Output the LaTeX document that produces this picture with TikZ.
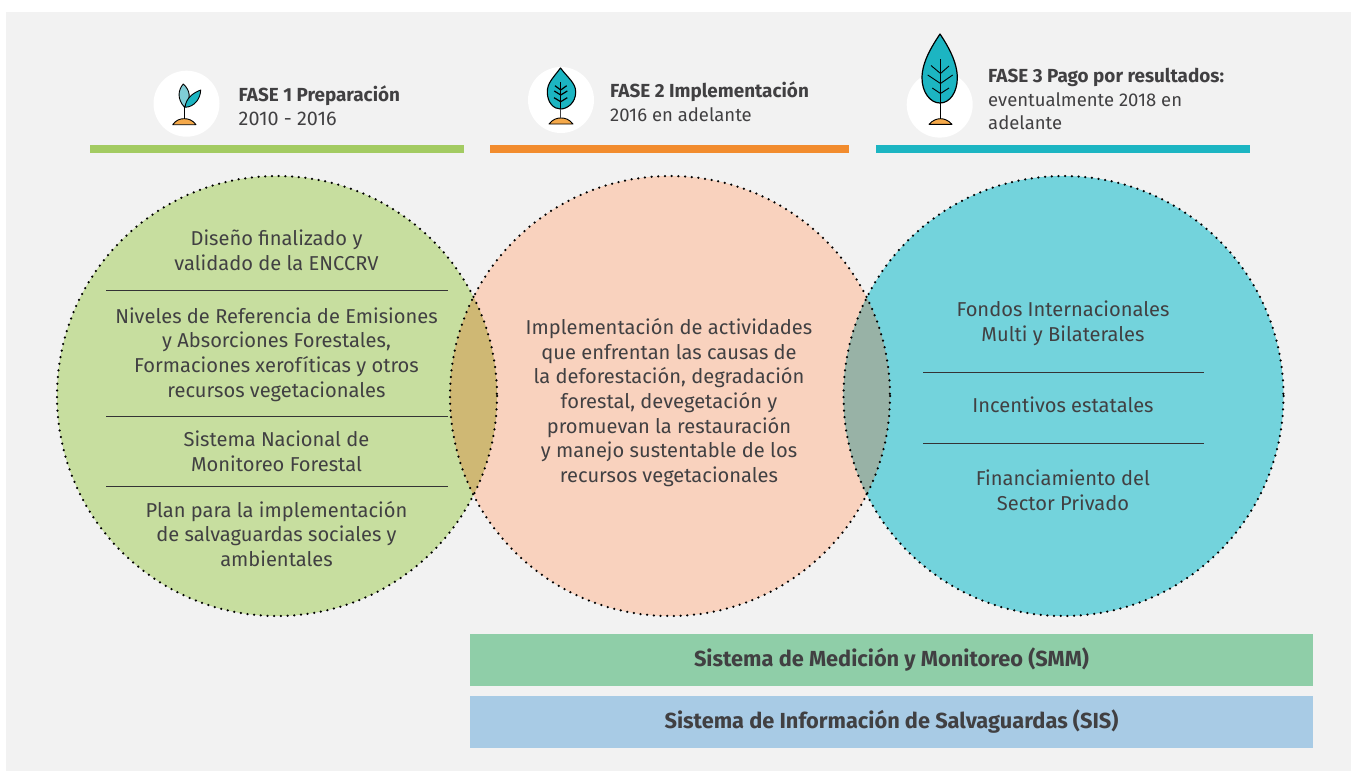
\documentclass[tikz,border=0pt]{standalone}
\usepackage{fontspec}
\setmainfont{Fira Sans}
\usetikzlibrary{calc}
\definecolor{panel}{HTML}{F2F2F2}
\definecolor{ink}{HTML}{414042}
\definecolor{barg}{HTML}{A3CB62}
\definecolor{baro}{HTML}{F28C2E}
\definecolor{bart}{HTML}{1CB5C2}
\definecolor{cg}{HTML}{C7DE9F}
\definecolor{co}{HTML}{F9D2BE}
\definecolor{ct}{HTML}{73D3DC}
\definecolor{ov1}{HTML}{CFB874}
\definecolor{ov2}{HTML}{98B2A6}
\definecolor{smm}{HTML}{8FCEA8}
\definecolor{sis}{HTML}{A8CBE5}
\definecolor{leaflt}{HTML}{7FCDD6}
\definecolor{soil}{HTML}{F5A94A}
\newcommand{\headbold}[1]{{\fontsize{18.9}{23.8}\selectfont\bfseries #1}}
\tikzset{
  x=1pt,y=-1pt,
  bodytext/.style={text=ink,font=\fontsize{20.1}{24.7}\selectfont,align=center,inner sep=0pt},
  headtext/.style={text=ink,font=\fontsize{18.5}{23.6}\selectfont,align=left,inner sep=0pt,anchor=north west},
  bandtext/.style={text=ink,font=\fontsize{21.8}{24}\selectfont\bfseries,inner sep=0pt},
  disc/.style={circle,fill=white,inner sep=0pt,minimum size=66pt},
  bar/.style={inner sep=0pt,minimum height=8pt},
  rule/.style={draw=ink!80!black,line width=0.9pt},
  dots/.style={draw=black,line width=2.5pt,line cap=round,dash pattern=on 0pt off 6.7pt},
  icon/.style={draw=black,line width=0.9pt,line join=round},
  band/.style={inner sep=0pt,minimum height=52pt}
}
\begin{document}
\begin{tikzpicture}
\useasboundingbox (0,0) rectangle (1351,771);
\fill[white] (0,0) rectangle (1351,771);
\fill[panel] (6,12) rectangle (1351,771);
% bars
\node[bar,fill=barg,minimum width=374pt] (b1) at (277,149) {};
\node[bar,fill=baro,minimum width=359pt] (b2) at (669.5,149) {};
\node[bar,fill=bart,minimum width=374pt] (b3) at (1063,149) {};
% circles
\def\R{220}
\fill[cg] (277,396) circle (\R);
\fill[co] (670,396) circle (\R);
\fill[ct] (1063.5,396) circle (\R);
\begin{scope}\clip (277,396) circle (\R); \fill[ov1] (670,396) circle (\R); \end{scope}
\begin{scope}\clip (670,396) circle (\R); \fill[ov2] (1063.5,396) circle (\R); \end{scope}
\draw[dots] (277,396) circle (\R);
\draw[dots] (670,396) circle (\R);
\draw[dots] (1063.5,396) circle (\R);
% discs
\node[disc] (d1) at (186.5,103.7) {};
\node[disc] (d2) at (561,100) {};
\node[disc] (d3) at (939.7,104.6) {};
% sprout
\draw[icon,fill=soil] (172.7,124.7) .. controls (176,120) and (180,118.7) .. (184.3,118.7) .. controls (188.5,118.7) and (192.5,120) .. (196,124.7) -- cycle;
\draw[icon] (184.3,118.7) -- (184.3,105);
\draw[icon,fill=leaflt] (184.3,107) .. controls (177,99) and (178,90) .. (183.3,84) .. controls (190,90) and (192,99) .. (184.3,107) -- cycle;
\draw[icon,fill=bart] (185,107.3) .. controls (186,98) and (193,93) .. (200.7,90) .. controls (200.5,98) and (195,107) .. (185,107.3) -- cycle;
% tree 2
\draw[icon,fill=soil] (549,124) .. controls (553,119) and (557,118) .. (561,118) .. controls (565,118) and (569,119) .. (573,124) -- cycle;
\draw[icon,line width=1.1pt,fill=bart] (560.5,68) .. controls (553,78) and (547.3,83) .. (547.3,92) .. controls (547.3,103) and (554,109) .. (560.5,109) .. controls (567,109) and (575.7,103) .. (575.7,92) .. controls (575.7,83) and (568,78) .. (560.5,68) -- cycle;
\draw[icon,line width=1.2pt] (560.7,82.3) -- (560.7,109);
\draw[icon,line width=1.2pt] (555,85.7) -- (560.7,90) -- (566.7,85.7) (554.3,91) -- (560.7,95) -- (567.3,91) (554,97.7) -- (560.7,101.7) -- (567.3,97.7);
\draw[icon,draw=ink,line width=1.5pt] (560.7,109) -- (560.7,118);
% tree 3
\draw[icon,fill=soil] (929,124.3) .. controls (933,120) and (937,118.7) .. (940.5,118.7) .. controls (944,118.7) and (948,120) .. (952,124.3) -- cycle;
\draw[icon,line width=1.2pt,fill=bart] (940,34) .. controls (932,46) and (922,62) .. (922,78) .. controls (922,92) and (930,103) .. (940,103) .. controls (950,103) and (957.3,92) .. (957.3,78) .. controls (957.3,62) and (948,46) .. (940,34) -- cycle;
\draw[icon] (940.5,59) -- (940.5,118.7);
\draw[icon] (931,65.5) -- (940.5,73.5) -- (949,66) (927.7,75) -- (940.5,83.5) -- (952.7,75) (932.3,88) -- (940.5,93.5) -- (949,88);
% headings
\node[headtext] (h1) at (238.5,86) {\headbold{FASE 1 Preparación}\\{\fontsize{19.8}{23.6}\selectfont 2010 - 2016}};
\node[headtext] (h2) at (610,82) {\headbold{FASE 2 Implementación}\\2016 en adelante};
\node[headtext] (h3) at (988,68) {\headbold{FASE 3 Pago por resultados:}\\eventualmente 2018 en\\adelante};
% circle 1
\coordinate (r1a) at (106,290.5); \coordinate (r1b) at (448,290.5);
\coordinate (r2a) at (106,416); \coordinate (r2b) at (448,416);
\coordinate (r3a) at (106,486); \coordinate (r3b) at (448,486);
\draw[rule] (r1a) -- (r1b); \draw[rule] (r2a) -- (r2b); \draw[rule] (r3a) -- (r3b);
\node[bodytext] (t1) at (276.5,250) {Diseño finalizado y\\validado de la ENCCRV};
\node[bodytext] (t2) at (276.5,354.5) {Niveles de Referencia de Emisiones\\y Absorciones Forestales,\\Formaciones xerofíticas y otros\\recursos vegetacionales};
\node[bodytext] (t3) at (276.5,451) {Sistema Nacional de\\Monitoreo Forestal};
\node[bodytext] (t4) at (276.5,534) {Plan para la implementación\\de salvaguardas sociales y\\ambientales};
% circle 2
\node[bodytext] (t5) at (669,402.5) {Implementación de actividades\\que enfrentan las causas de\\la deforestación, degradación\\forestal, devegetación y\\promuevan la restauración\\y manejo sustentable de los\\recursos vegetacionales};
% circle 3
\coordinate (r4a) at (923,372); \coordinate (r4b) at (1204,372);
\coordinate (r5a) at (923,443); \coordinate (r5b) at (1204,443);
\draw[rule] (r4a) -- (r4b); \draw[rule] (r5a) -- (r5b);
\node[bodytext] (t6) at (1063,323.5) {Fondos Internacionales\\Multi y Bilaterales};
\node[bodytext] (t7) at (1063,405) {Incentivos estatales};
\node[bodytext] (t8) at (1063,490) {Financiamiento del\\Sector Privado};
% bands
\node[band,fill=smm,minimum width=843pt] (smmb) at (891.5,660) {};
\node[band,fill=sis,minimum width=843pt] (sisb) at (891.5,722) {};
\node[bandtext] at (smmb) {Sistema de Medición y Monitoreo (SMM)};
\node[bandtext] at (sisb) {Sistema de Información de Salvaguardas (SIS)};
\end{tikzpicture}
\end{document}
